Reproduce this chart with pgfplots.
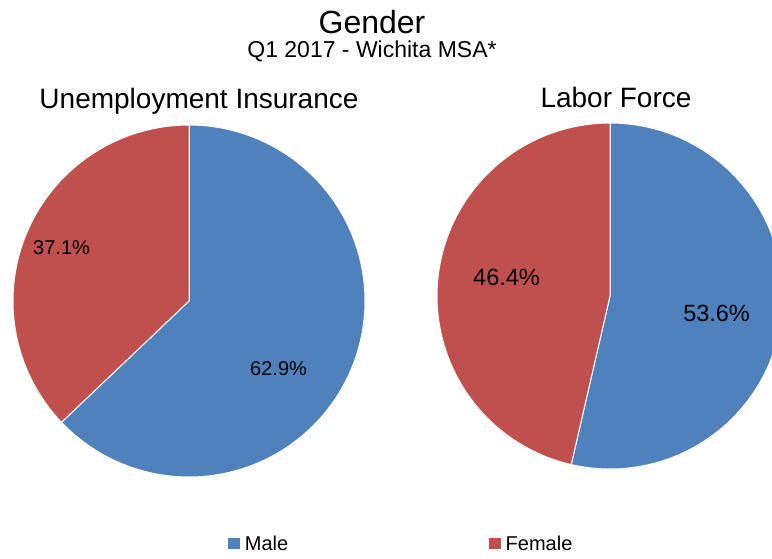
\documentclass[border=0pt]{standalone}
\usepackage{pgfplots}
\pgfplotsset{compat=1.18}
\usepackage{fontspec}
\setmainfont{Liberation Sans}
\definecolor{maleblue}{RGB}{79,129,189}
\definecolor{femalered}{RGB}{192,80,77}
% shares (percent)
\def\UIMale{62.9}
\def\UIFemale{37.1}
\def\LFMale{53.6}
\def\LFFemale{46.4}
\begin{document}
\begin{tikzpicture}
\useasboundingbox (0,0) rectangle (772pt,-558pt);
\clip (0,0) rectangle (772pt,-558pt);
\fill[white] (0,0) rectangle (772pt,-558pt);
% titles
\node[anchor=base] at (372pt,-33pt) {\fontsize{32}{38}\selectfont Gender};
\node[anchor=base] at (372pt,-57pt) {\fontsize{23}{27}\selectfont Q1 2017 - Wichita MSA*};
\node[anchor=base] at (199pt,-108pt) {\fontsize{28}{33}\selectfont Unemployment Insurance};
\node[anchor=base] at (616pt,-107pt) {\fontsize{28}{33}\selectfont Labor Force};
% left pie
\pgfmathsetmacro\uicut{90-3.6*\UIMale}
\begin{axis}[at={(189pt,-301pt)}, anchor=center, scale only axis,
  width=352pt, height=352pt, xmin=-1, xmax=1, ymin=-1, ymax=1,
  hide axis, clip=false,
  legend columns=2,
  legend style={at={(1.102,-0.19)}, anchor=center, draw=none, fill=none,
    inner sep=0pt, nodes={inner sep=1pt},
    font=\fontsize{20}{24}\selectfont,
    /tikz/every even column/.append style={column sep=200pt},
    /tikz/every odd column/.append style={column sep=4pt}},
  legend image code/.code={\fill[#1,draw=none] (0pt,-5.5pt) rectangle (11.5pt,5.5pt);}]
\addplot[fill=maleblue, draw=white, line width=1pt, domain=\uicut:90, samples=150]
  ({cos(x)},{sin(x)}) -- (axis cs:0,0) -- cycle;
\addlegendentry{Male}
\addplot[fill=femalered, draw=white, line width=1pt, domain=90:\uicut+360, samples=120]
  ({cos(x)},{sin(x)}) -- (axis cs:0,0) -- cycle;
\addlegendentry{Female}
\node at (axis cs:-0.724,0.301) {\fontsize{20}{24}\selectfont \UIFemale\%};
\node at (axis cs:0.509,-0.386) {\fontsize{20}{24}\selectfont \UIMale\%};
\end{axis}
% right pie
\pgfmathsetmacro\lfcut{90-3.6*\LFMale}
\begin{axis}[at={(610pt,-296pt)}, anchor=center, scale only axis,
  width=346pt, height=346pt, xmin=-1, xmax=1, ymin=-1, ymax=1,
  hide axis, clip=false]
\addplot[fill=maleblue, draw=white, line width=1pt, domain=\lfcut:90, samples=150]
  ({cos(x)},{sin(x)}) -- (axis cs:0,0) -- cycle;
\addplot[fill=femalered, draw=white, line width=1pt, domain=90:\lfcut+360, samples=150]
  ({cos(x)},{sin(x)}) -- (axis cs:0,0) -- cycle;
\node at (axis cs:-0.598,0.110) {\fontsize{23.5}{28}\selectfont \LFFemale\%};
\node at (axis cs:0.616,-0.098) {\fontsize{23.5}{28}\selectfont \LFMale\%};
\end{axis}
\end{tikzpicture}
\end{document}
